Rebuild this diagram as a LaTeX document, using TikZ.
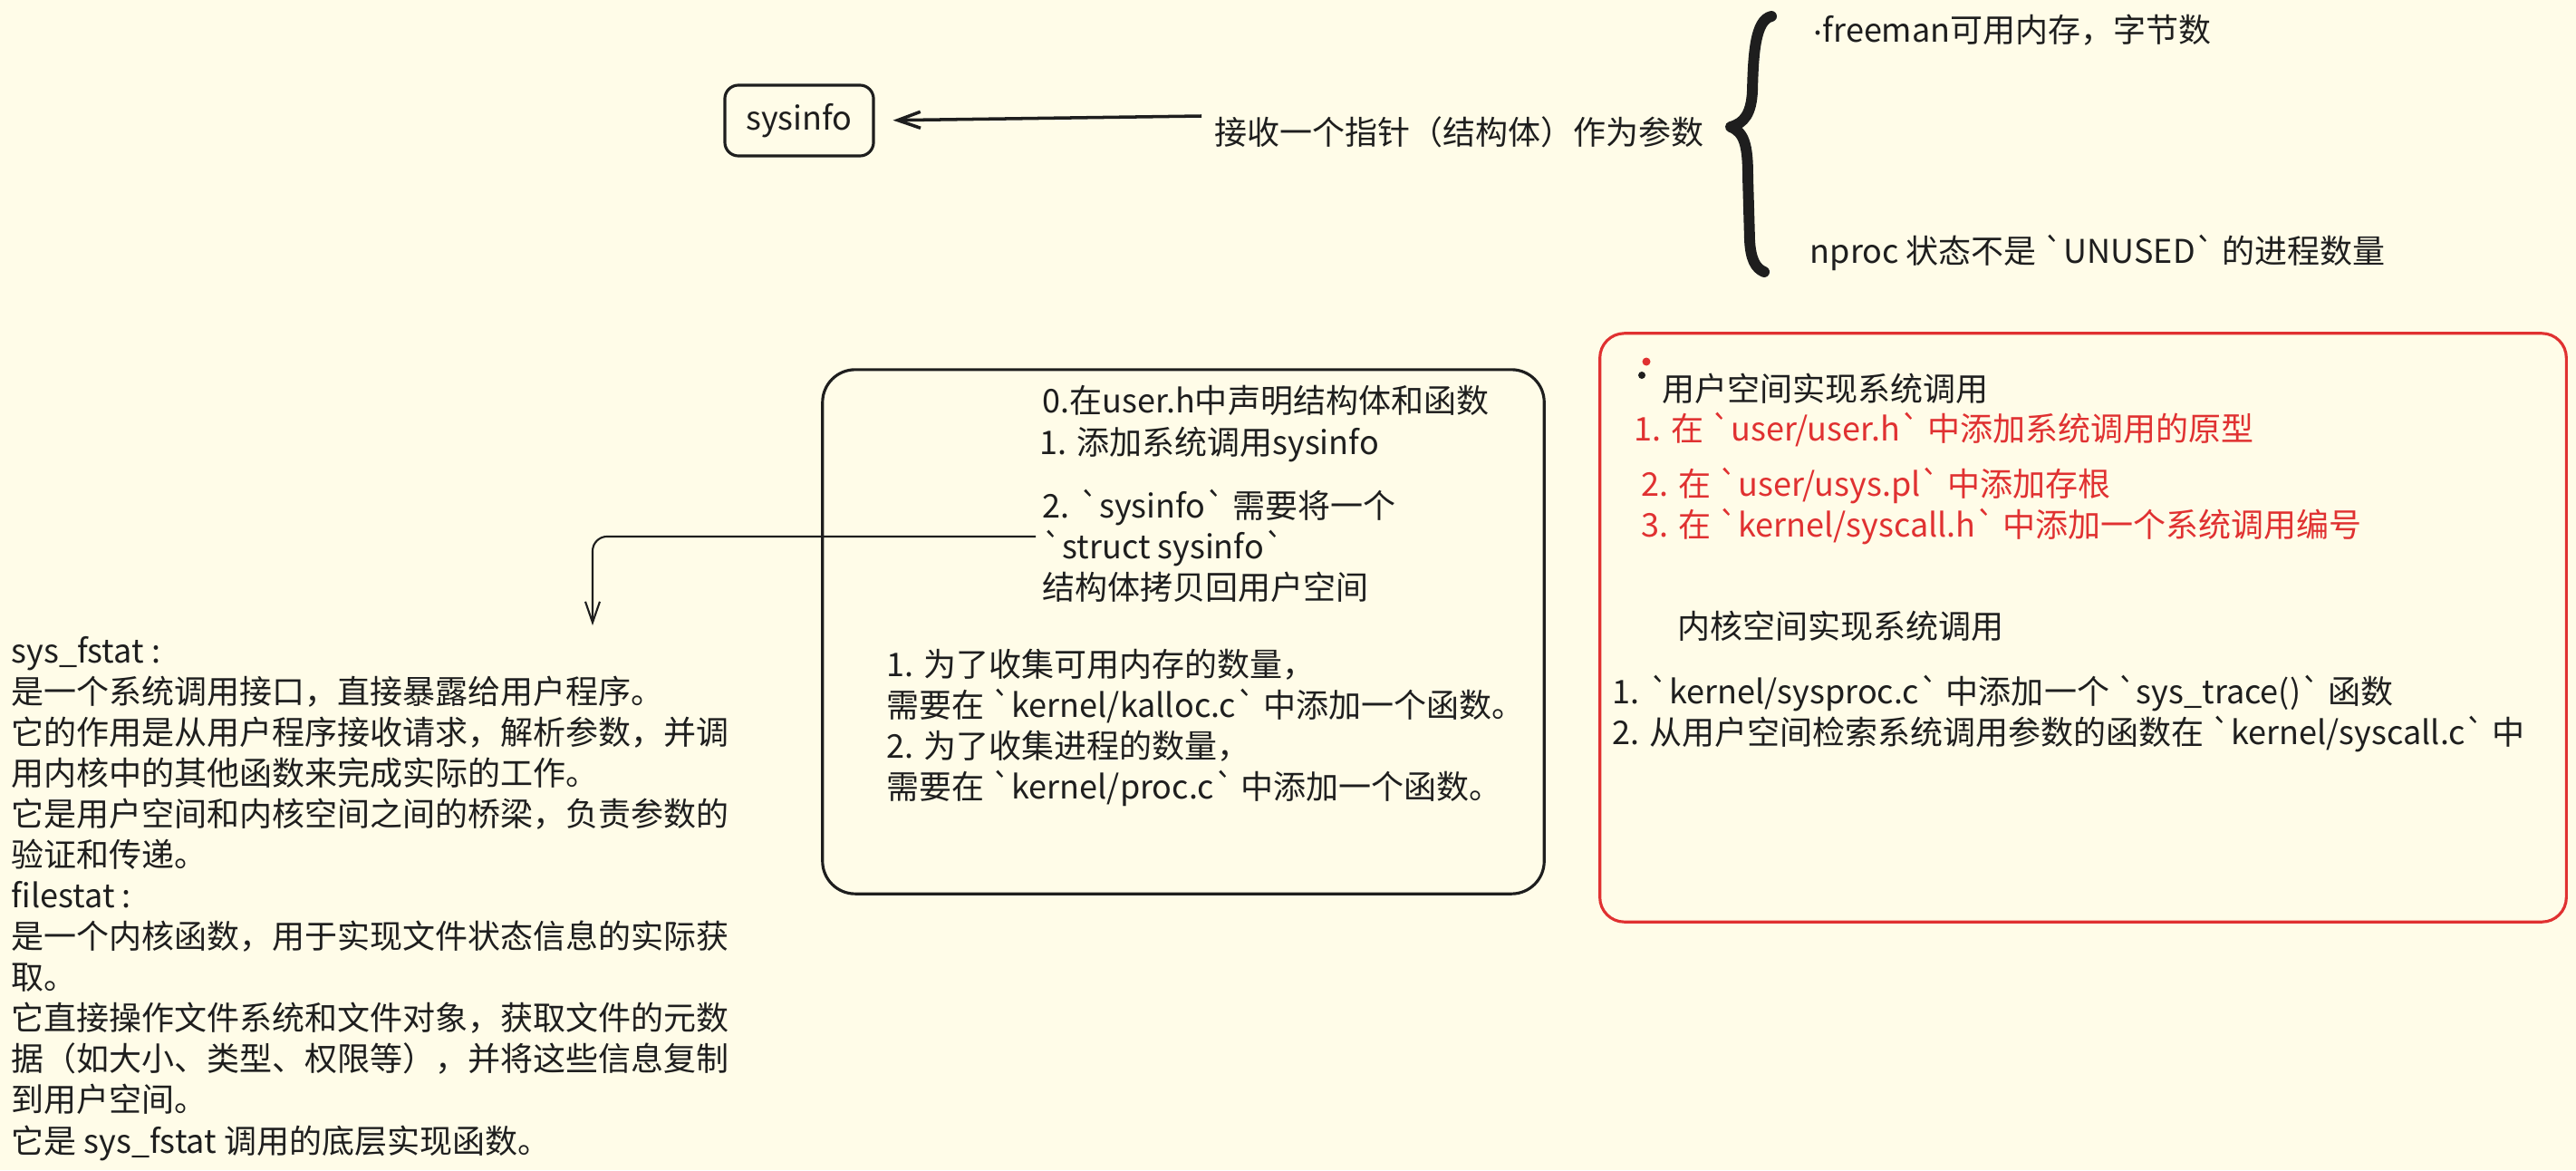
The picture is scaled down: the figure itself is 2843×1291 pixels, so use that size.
\documentclass[tikz,border=0pt]{standalone}
\usepackage{fontspec}
\setmainfont{Noto Sans CJK SC}[Ligatures=TeXOff]
\usetikzlibrary{arrows.meta,calc}
\definecolor{bg}{HTML}{FFFCE8}
\definecolor{ink}{HTML}{1E1E1E}
\definecolor{redc}{HTML}{E03131}
\newcommand{\bq}{`}
\begin{document}
\begin{tikzpicture}[x=0.01cm,y=-0.01cm,
  txt/.style={inner sep=0pt, text=ink, align=left, font={\fontsize{10.24pt}{12.8pt}\selectfont}},
  redtxt/.style={txt, text=redc},
  boxsty/.style={draw=ink, line width=0.9pt, rounded corners=0.15cm, inner sep=0pt},
  midbox/.style={draw=ink, line width=0.9pt, rounded corners=0.36cm, inner sep=0pt},
  redbox/.style={draw=redc, line width=0.9pt, rounded corners=0.27cm, inner sep=0pt},
  arr/.style={draw=ink, line width=1pt, -{Straight Barb[length=0.25cm,width=0.18cm]}},
  thinarr/.style={draw=ink, line width=0.6pt, rounded corners=0.16cm, -{Straight Barb[length=0.23cm,width=0.16cm]}},
  bracestroke/.style={draw=ink, line width=3.4pt, line cap=round, line join=round}
]
\useasboundingbox (0,0) rectangle (2843,1291);
\fill[bg] (0,0) rectangle (2843,1291);

% top: sysinfo box, arrow and label
\node[boxsty, minimum width=1.64cm, minimum height=0.78cm] (sysinfo) at (882,133) {};
\node[txt] (sysinfotxt) at (882,133) {sysinfo};
\node[txt, anchor=west] (lbl) at (1340,146) {接收一个指针（结构体）作为参数};
\draw[arr, shorten >=0.2cm] ($(lbl.west)+(-14,-18)$) -- (sysinfo.east);

% brace
\draw[bracestroke] (1955,18) .. controls (1937,22) and (1935,60) .. (1934,100)
  .. controls (1933,125) and (1925,136) .. (1910,140)
  .. controls (1925,146) and (1929,160) .. (1929,195)
  -- (1931,265) .. controls (1932,285) and (1937,296) .. (1947,300);
\node[txt, anchor=west] (free) at (2001,33) {\raisebox{0.22em}{.}freeman可用内存，字节数};
\node[txt, anchor=west] (nproc) at (1997,279) {nproc 状态不是 \bq UNUSED\bq{} 的进程数量};

% middle box
\node[midbox, minimum width=7.96cm, minimum height=5.78cm] (mid) at (1306,697) {};
\node[txt, anchor=west] (m0) at (1150,442) {0.在user.h中声明结构体和函数};
\node[txt, anchor=west] (m1) at (1147,491) {1. 添加系统调用sysinfo};
\node[txt, anchor=north west] (m2) at (1150,539) {2. \bq sysinfo\bq{} 需要将一个\\\bq struct sysinfo\bq\\结构体拷贝回用户空间};
\node[txt, anchor=north west] (m3) at (978,715) {1. 为了收集可用内存的数量，\\需要在 \bq kernel/kalloc.c\bq{} 中添加一个函数。\\2. 为了收集进程的数量，\\需要在 \bq kernel/proc.c\bq{} 中添加一个函数。};

% left text
\node[txt, anchor=north west] (lft) at (12,702) {sys\_fstat :\\是一个系统调用接口，直接暴露给用户程序。\\它的作用是从用户程序接收请求，解析参数，并调\\用内核中的其他函数来完成实际的工作。\\它是用户空间和内核空间之间的桥梁，负责参数的\\验证和传递。\\filestat :\\是一个内核函数，用于实现文件状态信息的实际获\\取。\\它直接操作文件系统和文件对象，获取文件的元数\\据（如大小、类型、权限等），并将这些信息复制\\到用户空间。\\它是 sys\_fstat 调用的底层实现函数。};

\coordinate (tip) at (654,690);
\draw[thinarr] ($(m2.west)+(-7,-10)$) -| (tip);

% red box
\node[redbox, minimum width=10.66cm, minimum height=6.49cm] (rbox) at (2299,692.5) {};
\fill[redc] (1817,399) circle (0.045cm);
\fill[ink] (1812,414) circle (0.04cm);
\node[txt, anchor=west] (r0) at (1834,429) {用户空间实现系统调用};
\node[redtxt, anchor=west] (r1) at (1803,474) {1. 在 \bq user/user.h\bq{} 中添加系统调用的原型};
\node[redtxt, anchor=north west] (r2) at (1811,515) {2. 在 \bq user/usys.pl\bq{} 中添加存根\\3. 在 \bq kernel/syscall.h\bq{} 中添加一个系统调用编号};
\node[txt, anchor=west] (r3) at (1851,691) {内核空间实现系统调用};
\node[txt, anchor=north west] (r4) at (1779,744) {1. \bq kernel/sysproc.c\bq{} 中添加一个 \bq sys\_trace()\bq{} 函数\\2. 从用户空间检索系统调用参数的函数在 \bq kernel/syscall.c\bq{} 中};
\end{tikzpicture}
\end{document}
